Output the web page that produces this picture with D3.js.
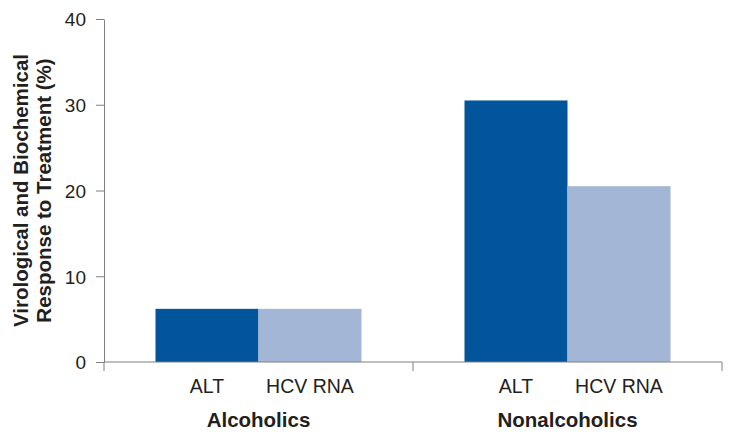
<!DOCTYPE html>
<html>
<head>
<meta charset="utf-8">
<script src="https://cdn.jsdelivr.net/npm/d3@7"></script>
<style>
  html, body { margin: 0; padding: 0; background: #fff; }
  svg { display: block; font-family: Arial, "Liberation Sans", Helvetica, sans-serif; }
  svg text { font-family: Arial, "Liberation Sans", Helvetica, sans-serif; }
</style>
</head>
<body>
<svg id="chart" width="735" height="439"></svg>
<script>
const groups = ["Alcoholics", "Nonalcoholics"];
const measures = ["ALT", "HCV RNA"];
const altValues = [6.2, 30.5];
const hcvValues = [6.2, 20.5];
const yTicks = [0, 10, 20, 30, 40];
const yTitleLines = ["Virological and Biochemical", "Response to Treatment (%)"];
const colors = ["#02559A", "#A3B6D6"];

const data = groups.map((g, i) => ({ group: g, values: [altValues[i], hcvValues[i]] }));

const svg = d3.select("#chart");
const margin = { left: 104, right: 13, top: 19, bottom: 77 };
const W = 735, H = 439;
const axisColor = "#808080";
const textColor = "#231F20";

const y = d3.scaleLinear().domain([0, 40]).range([H - margin.bottom, margin.top]);
const x0 = d3.scaleBand().domain(groups).range([margin.left, W - margin.right]).padding(0);
const x1 = d3.scaleBand().domain(measures).range([0, x0.bandwidth()]).paddingOuter(0.5).paddingInner(0);

// bars
const g = svg.append("g");
data.forEach(d => {
  g.selectAll(null)
    .data(d.values.map((v, j) => ({ m: measures[j], v, j })))
    .enter().append("rect")
    .attr("x", e => x0(d.group) + x1(e.m))
    .attr("width", x1.bandwidth())
    .attr("y", e => y(e.v))
    .attr("height", e => y(0) - y(e.v))
    .attr("fill", e => colors[e.j]);
});

// y axis
const yAxis = d3.axisLeft(y).tickValues(yTicks).tickSize(8).tickSizeOuter(0).tickPadding(10);
const ya = svg.append("g").attr("transform", `translate(${margin.left},0)`).call(yAxis);
ya.attr("font-family", null);
ya.select(".domain").attr("stroke", axisColor);
ya.selectAll(".tick line").attr("stroke", axisColor);
ya.selectAll(".tick text").attr("fill", textColor).style("font-size", "19px").attr("dy", "0.36em");

// x axis line with boundary ticks
const boundaries = [margin.left, ...groups.map(gr => x0(gr) + x0.bandwidth())];
svg.append("line")
  .attr("x1", margin.left).attr("x2", W - margin.right)
  .attr("y1", y(0)).attr("y2", y(0))
  .attr("stroke", axisColor);
svg.selectAll(".xb").data(boundaries).enter().append("line")
  .attr("x1", d => d).attr("x2", d => d)
  .attr("y1", y(0)).attr("y2", y(0) + 9)
  .attr("stroke", axisColor);

// measure labels
data.forEach(d => {
  measures.forEach(m => {
    svg.append("text")
      .attr("x", x0(d.group) + x1(m) + x1.bandwidth() / 2)
      .attr("y", 393)
      .attr("text-anchor", "middle")
      .attr("fill", textColor)
      .style("font-size", "19.5px")
      .text(m);
  });
  svg.append("text")
    .attr("x", x0(d.group) + x0.bandwidth() / 2)
    .attr("y", 427)
    .attr("text-anchor", "middle")
    .attr("fill", textColor)
    .style("font-size", "20.5px")
    .style("font-weight", "bold")
    .text(d.group);
});

// y title
const cy = (y(0) + y(40)) / 2;
yTitleLines.forEach((t, i) => {
  svg.append("text")
    .attr("transform", `translate(${28 + i * 23},${cy}) rotate(-90)`)
    .attr("text-anchor", "middle")
    .attr("fill", textColor)
    .style("font-size", "20.5px")
    .style("font-weight", "bold")
    .text(t);
});
</script>
</body>
</html>
